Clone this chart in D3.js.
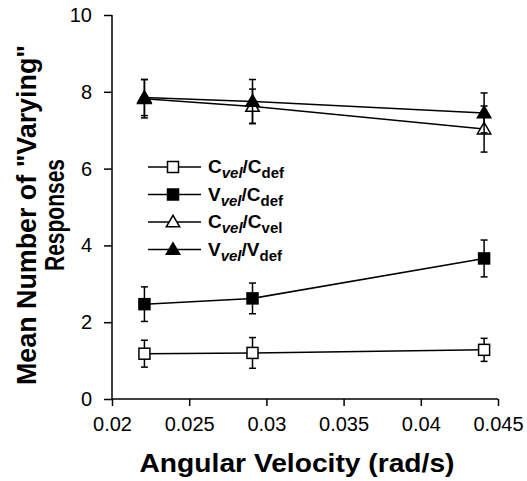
<!DOCTYPE html>
<html>
<head>
<meta charset="utf-8">
<script src="https://cdn.jsdelivr.net/npm/d3@7"></script>
<style>
  body { margin: 0; background: #fff; }
  text { font-family: "Liberation Sans", Arial, sans-serif; fill: #000; }
</style>
</head>
<body>
<div id="vis"></div>
<script>
var width = 527;
var height = 481;

// data
var velocities = [0.0221, 0.0291, 0.0441];
var cvelCdef = [1.18, 1.2, 1.28];
var cvelCdefErr = [0.35, 0.4, 0.3];
var vvelCdef = [2.47, 2.62, 3.66];
var vvelCdefErr = [0.45, 0.4, 0.48];
var cvelCvel = [7.82, 7.62, 7.03];
var cvelCvelErr = [0.5, 0.45, 0.6];
var vvelVdef = [7.85, 7.75, 7.45];
var vvelVdefErr = [0.47, 0.57, 0.52];
var xTicks = [0.02, 0.025, 0.03, 0.035, 0.04, 0.045];
var yTicks = [0, 2, 4, 6, 8, 10];

var series = [
  { main: 'C', top: 'vel', sub: 'C', subText: 'def', marker: 'square', filled: false, values: cvelCdef, err: cvelCdefErr },
  { main: 'V', top: 'vel', sub: 'C', subText: 'def', marker: 'square', filled: true, values: vvelCdef, err: vvelCdefErr },
  { main: 'C', top: 'vel', sub: 'C', subText: 'vel', marker: 'triangle', filled: false, values: cvelCvel, err: cvelCvelErr },
  { main: 'V', top: 'vel', sub: 'V', subText: 'def', marker: 'triangle', filled: true, values: vvelVdef, err: vvelVdefErr }
];

var x = d3.scaleLinear().domain([0.02, 0.045]).range([112, 498]);
var y = d3.scaleLinear().domain([0, 10]).range([399, 15]);

var svg = d3.select('#vis')
    .append('svg')
    .attr('width', width)
    .attr('height', height);

// axes
var xAxis = svg.append('g')
    .attr('transform', 'translate(0,399)')
    .call(d3.axisBottom(x).tickValues(xTicks).tickSize(7).tickPadding(11)
        .tickFormat(function (d) { return d3.format('')(+d.toFixed(3)); }));
var yAxis = svg.append('g')
    .attr('transform', 'translate(112,0)')
    .call(d3.axisLeft(y).tickValues(yTicks).tickSize(8).tickPadding(12));
[xAxis, yAxis].forEach(function (a) {
    a.select('.domain').attr('stroke-width', 1.5);
    a.selectAll('.tick line').attr('stroke-width', 1.5);
    a.selectAll('.tick text').style('font-size', '20px');
});
xAxis.select('.domain').attr('d', 'M112,0H498');
yAxis.select('.domain').attr('d', 'M0,' + y(10) + 'V' + y(0));

// axis titles
svg.append('text')
    .attr('x', 297).attr('y', 472)
    .attr('text-anchor', 'middle')
    .attr('textLength', 315).attr('lengthAdjust', 'spacingAndGlyphs')
    .style('font-size', '26px').style('font-weight', 'bold')
    .text('Angular Velocity (rad/s)');
var yTitle = svg.append('g')
    .attr('transform', 'translate(0,215) rotate(-90)');
yTitle.append('text')
    .attr('x', 0).attr('y', 36)
    .attr('text-anchor', 'middle')
    .attr('textLength', 340).attr('lengthAdjust', 'spacingAndGlyphs')
    .style('font-size', '27px').style('font-weight', 'bold')
    .text('Mean Number of "Varying"');
yTitle.append('text')
    .attr('x', 0).attr('y', 64)
    .attr('text-anchor', 'middle')
    .attr('textLength', 112).attr('lengthAdjust', 'spacingAndGlyphs')
    .style('font-size', '27px').style('font-weight', 'bold')
    .text('Responses');

var triangle = d3.symbol().type(d3.symbolTriangle).size(78);

function drawMarker(g, s) {
    if (s.marker === 'square') {
        g.append('rect')
            .attr('x', -5.5).attr('y', -5.5).attr('width', 11).attr('height', 11)
            .attr('fill', s.filled ? '#000' : '#fff')
            .attr('stroke', '#000').attr('stroke-width', 1.5);
    } else {
        g.append('path')
            .attr('d', triangle)
            .attr('transform', 'translate(0,1)')
            .attr('fill', s.filled ? '#000' : '#fff')
            .attr('stroke', '#000').attr('stroke-width', 1.5);
    }
}

var line = d3.line()
    .x(function (d, i) { return x(velocities[i]); })
    .y(function (d) { return y(d); });

series.forEach(function (s) {
    var g = svg.append('g');
    g.append('path')
        .datum(s.values)
        .attr('d', line)
        .attr('fill', 'none')
        .attr('stroke', '#000')
        .attr('stroke-width', 1.5);
    s.values.forEach(function (v, i) {
        var cx = x(velocities[i]);
        var e = g.append('g').attr('stroke', '#000').attr('stroke-width', 1.5);
        e.append('line').attr('x1', cx).attr('x2', cx).attr('y1', y(v - s.err[i])).attr('y2', y(v + s.err[i]));
        e.append('line').attr('x1', cx - 3.5).attr('x2', cx + 3.5).attr('y1', y(v - s.err[i])).attr('y2', y(v - s.err[i]));
        e.append('line').attr('x1', cx - 3.5).attr('x2', cx + 3.5).attr('y1', y(v + s.err[i])).attr('y2', y(v + s.err[i]));
        drawMarker(g.append('g').attr('transform', 'translate(' + cx + ',' + y(v) + ')'), s);
    });
});

// legend
var legend = svg.append('g').attr('transform', 'translate(148,167)');
series.forEach(function (s, i) {
    var row = legend.append('g').attr('transform', 'translate(0,' + (i * 27.5) + ')');
    row.append('line').attr('x1', 0).attr('x2', 53).attr('stroke', '#000').attr('stroke-width', 1.5);
    drawMarker(row.append('g').attr('transform', 'translate(25,0)'), s);
    var t = row.append('text')
        .attr('x', 60).attr('y', 6)
        .style('font-size', '19px').style('font-weight', 'bold');
    t.append('tspan').text(s.main);
    t.append('tspan').attr('dy', 5).style('font-size', '15px').style('font-style', 'italic').text(s.top);
    t.append('tspan').attr('dy', -5).text('/' + s.sub);
    t.append('tspan').attr('dy', 5).style('font-size', '15px').text(s.subText);
});
</script>
</body>
</html>
